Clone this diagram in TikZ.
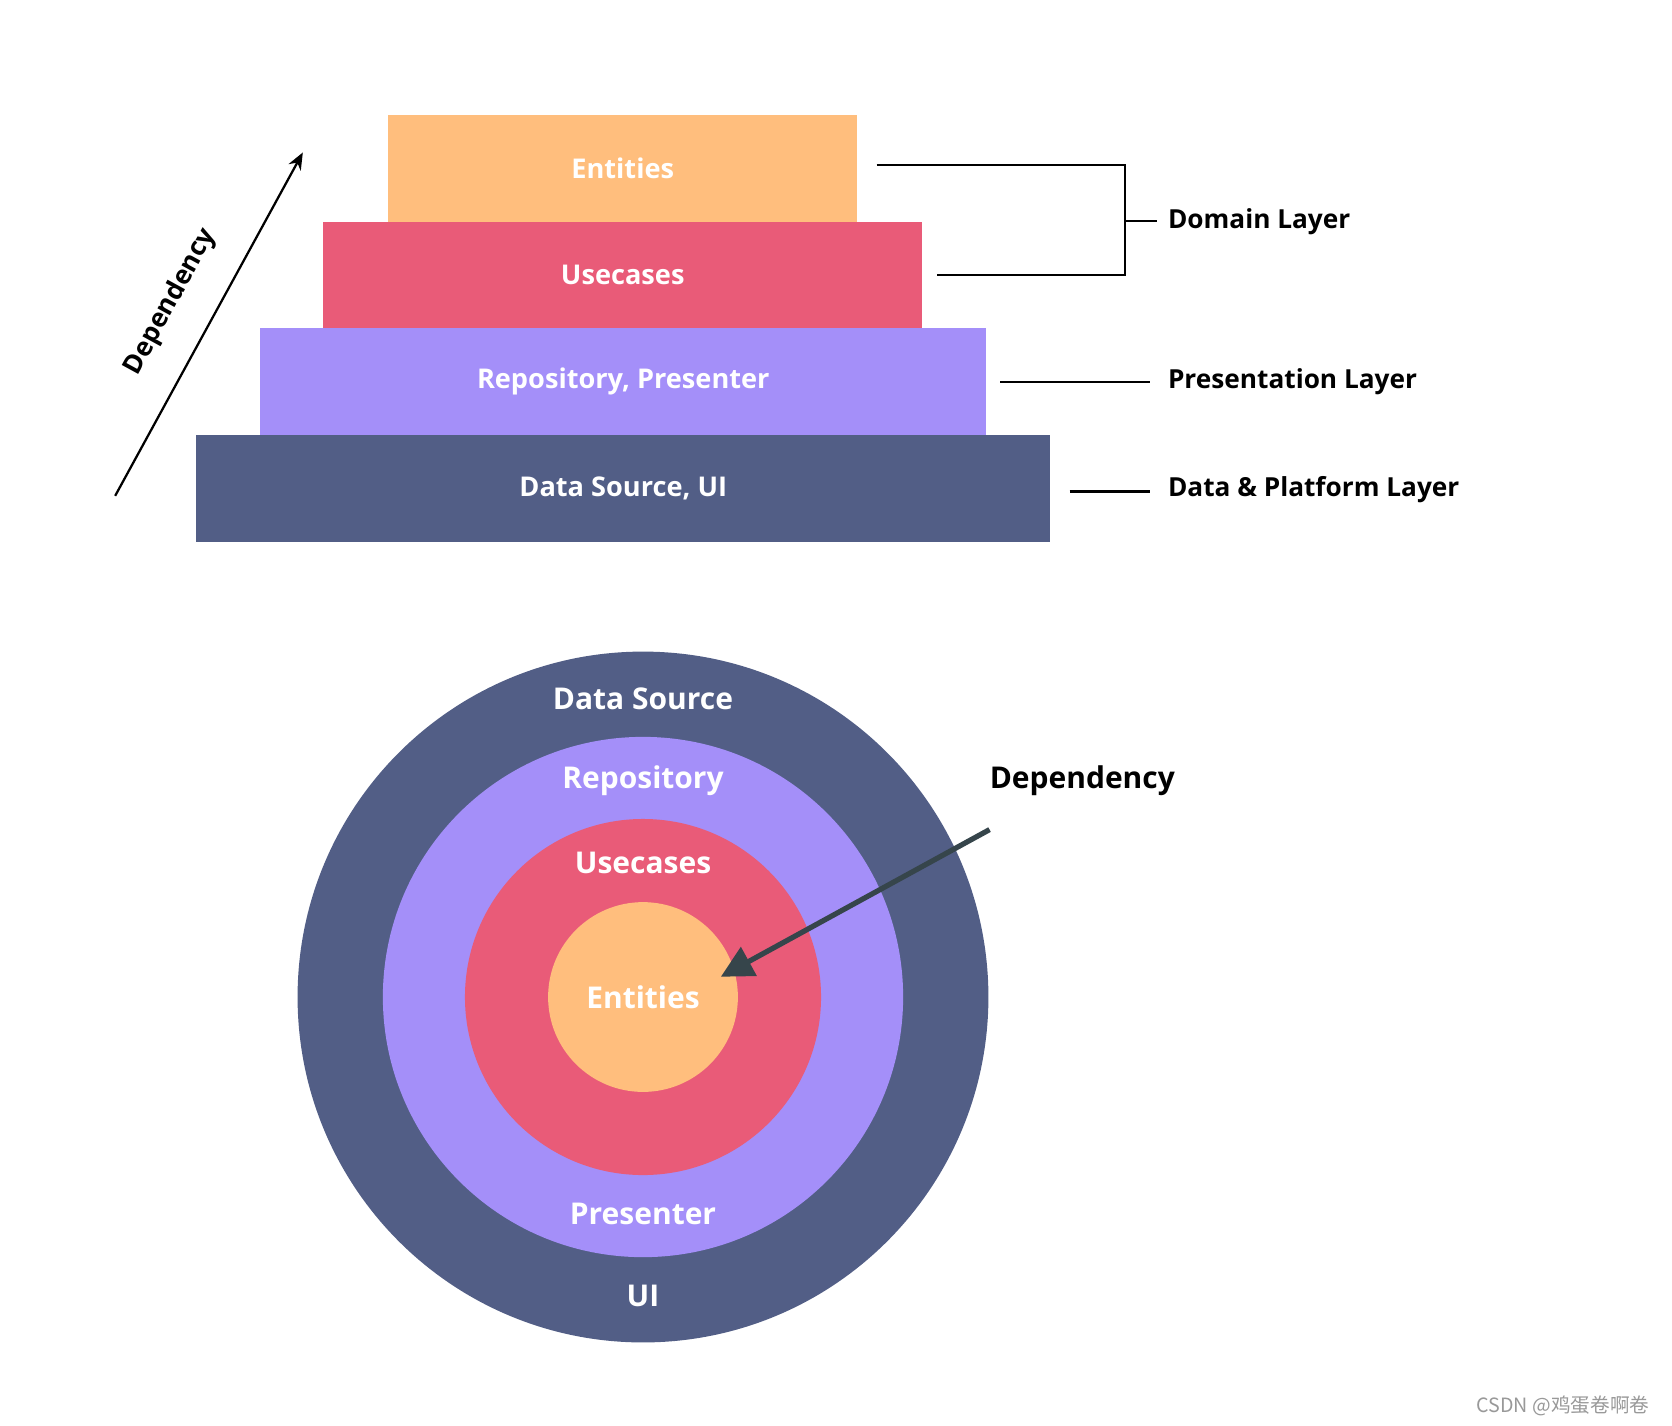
\documentclass[tikz,border=0pt]{standalone}
\usepackage{fontspec}
\setmainfont{Open Sans}
\newfontfamily\cjkfont{Noto Sans CJK SC}
\usetikzlibrary{arrows.meta}

\definecolor{entcol}{HTML}{FFBE7D}
\definecolor{usecol}{HTML}{E95B78}
\definecolor{repcol}{HTML}{A48FF9}
\definecolor{datcol}{HTML}{525E86}
\definecolor{arrcol}{HTML}{36454B}

\begin{document}
\begin{tikzpicture}[x=0.02cm, y=-0.02cm,
    layer/.style={rectangle, draw=none, inner sep=0pt, minimum height=2cm, text=white, font=\bfseries\fontsize{14.5}{17}\selectfont},
    ring/.style={circle, draw=none, inner sep=0pt},
    ringlabel/.style={text=white, font=\bfseries\fontsize{16}{19}\selectfont},
    sidelabel/.style={anchor=west, inner sep=0pt, font=\bfseries\fontsize{14}{17}\selectfont},
    bracket/.style={black, line width=1.3pt}]
  \useasboundingbox (0,0) rectangle (1568,1337);
  \fill[white] (0,0) rectangle (1568,1337);

  % stacked layers
  \node[layer, fill=datcol, minimum width=16.02cm] (DS) at (584.5,458) {Data Source, UI};
  \node[layer, fill=repcol, minimum width=13.62cm] (RP) at (584.5,358) {Repository, Presenter};
  \node[layer, fill=usecol, minimum width=11.24cm] (UC) at (584,258) {Usecases};
  \node[layer, fill=entcol, minimum width=8.8cm] (EN) at (584,158) {Entities};

  % layer names on the right
  \node[sidelabel] (DL) at (1095,208) {Domain Layer};
  \node[sidelabel] (PL) at (1095,358) {Presentation Layer};
  \node[sidelabel] (PFL) at (1095,459) {Data \& Platform Layer};
  \coordinate (b1) at (822,155);
  \coordinate (b2) at (1055,155);
  \coordinate (b3) at (1055,258);
  \coordinate (b4) at (879,258);
  \coordinate (b5) at (1055,207);
  \coordinate (b6) at (1085,207);
  \coordinate (p1) at (938,358);
  \coordinate (p2) at (1078,358);
  \coordinate (d1) at (1003,461);
  \coordinate (d2) at (1078,461);
  \draw[bracket] (b1) -- (b2) -- (b3) -- (b4);
  \draw[bracket] (b5) -- (b6);
  \draw[bracket] (p1) -- (p2);
  \draw[bracket] (d1) -- (d2);

  % dependency arrow of the stack
  \coordinate (s0) at (108,465);
  \coordinate (s1) at (284,143);
  \draw[black, line width=1.2pt, -{Stealth[length=3.2mm, width=2.6mm]}] (s0) -- (s1);
  \node[rotate=61.3, inner sep=0pt, font=\bfseries\fontsize{14}{17}\selectfont] (SD) at (160,283) {Dependency};

  % rings
  \node[ring, fill=datcol, minimum size=12.96cm] (R4) at (603,935) {};
  \node[ring, fill=repcol, minimum size=9.76cm] (R3) at (603,935) {};
  \node[ring, fill=usecol, minimum size=6.68cm] (R2) at (603,935) {};
  \node[ring, fill=entcol, minimum size=3.56cm] (R1) at (603,935) {};
  \node[ringlabel] (L4) at (603,655) {Data Source};
  \node[ringlabel] (L3) at (603,732) {Repository};
  \node[ringlabel] (L2) at (603,809) {Usecases};
  \node[ringlabel] (L1) at (603,935) {Entities};
  \node[ringlabel] (L5) at (603,1138) {Presenter};
  \node[ringlabel] (L6) at (603,1215) {UI};

  % dependency arrow of the rings
  \node[font=\bfseries\fontsize{16}{19}\selectfont] (CD) at (1015,732) {Dependency};
  \coordinate (c0) at (928,778);
  \coordinate (c1) at (676,916);
  \draw[arrcol, line width=2.8pt, -{Triangle[length=6mm, width=6mm]}] (c0) -- (c1);

  \node[anchor=east, text=gray!80, font=\cjkfont\fontsize{10.5}{12}\selectfont] (WM) at (1553,1318) {CSDN @鸡蛋卷啊卷};
\end{tikzpicture}
\end{document}
